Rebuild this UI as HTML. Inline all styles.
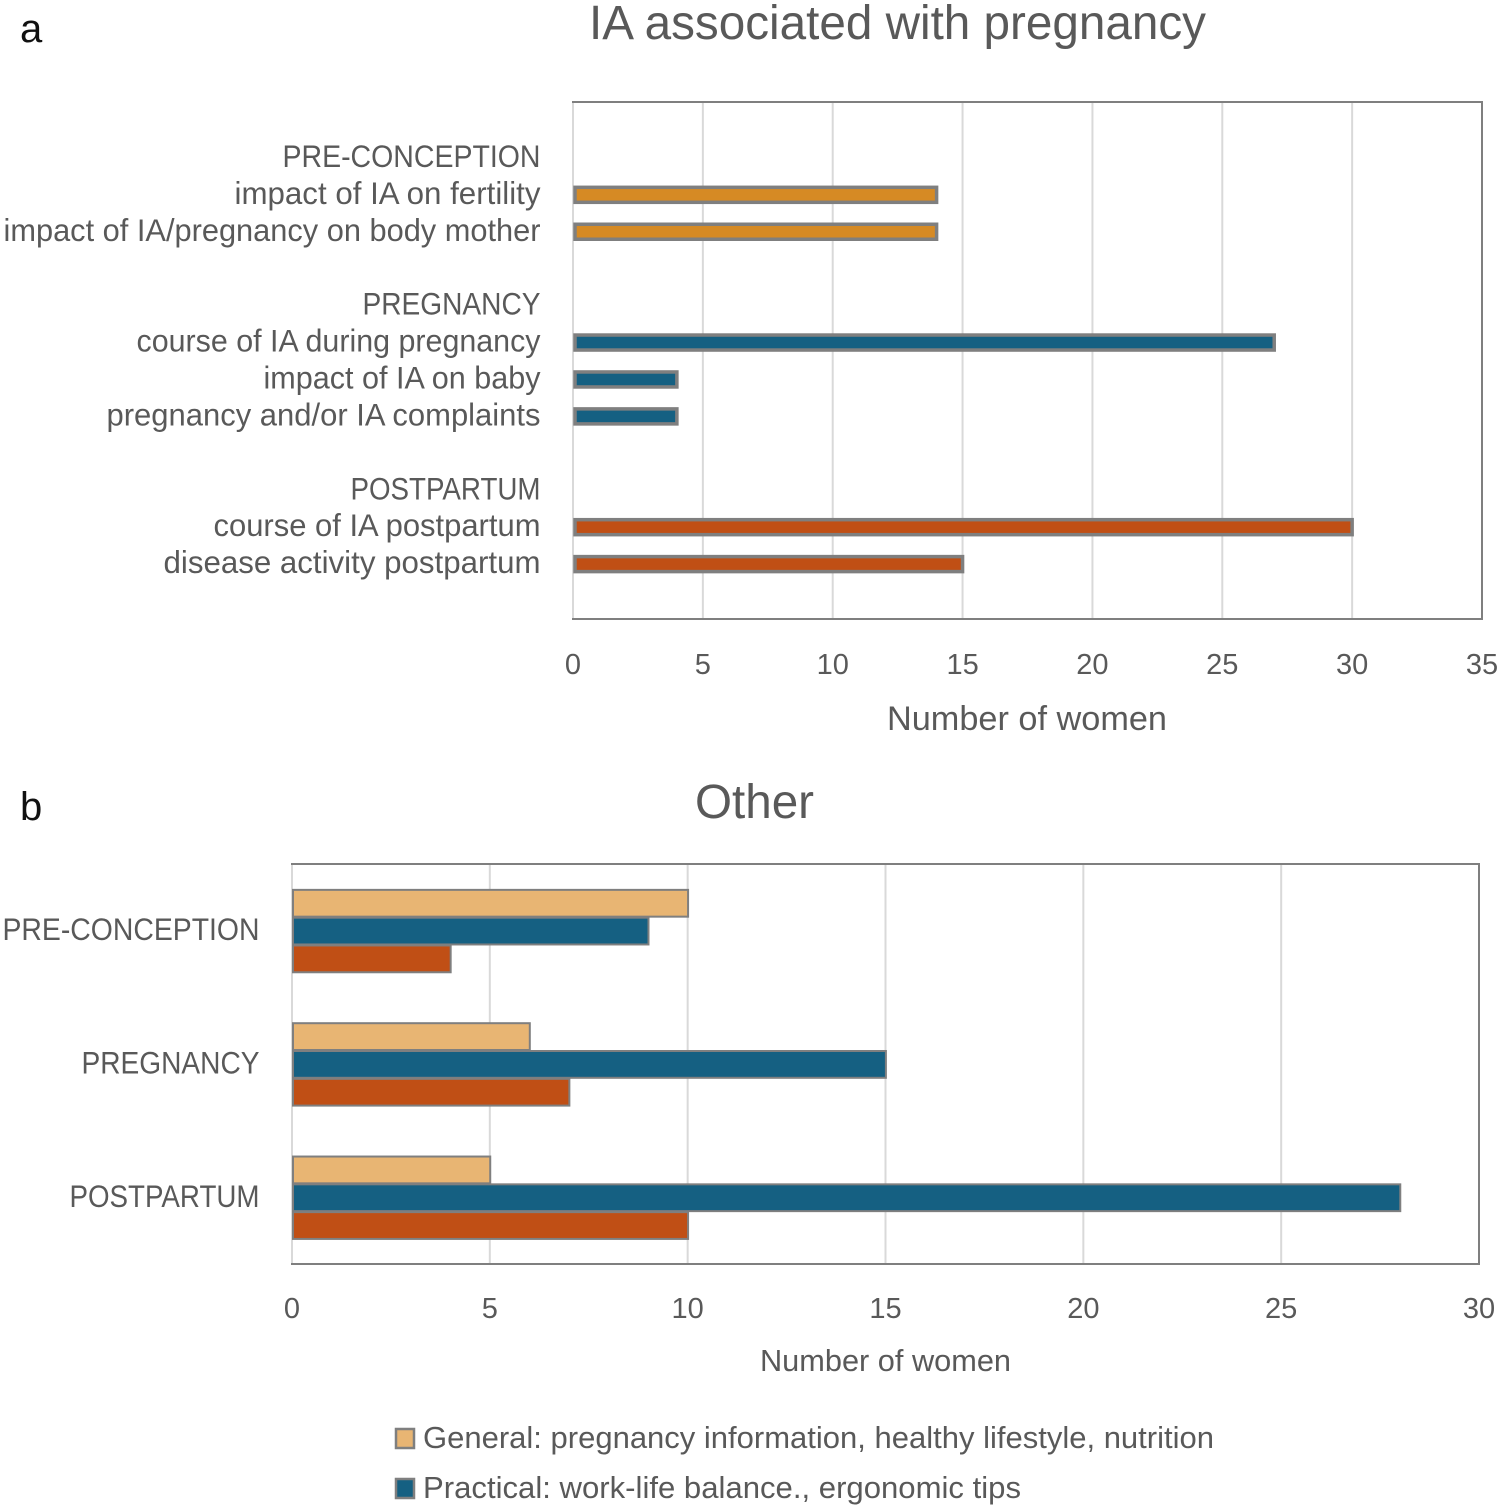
<!DOCTYPE html>
<html lang="en">
<head>
<meta charset="utf-8">
<title>IA associated with pregnancy</title>
<style>
html,body{margin:0;padding:0;background:#fff;}
svg{display:block;}
text{font-family:"Liberation Sans",sans-serif;fill:#595959;}
</style>
</head>
<body>
<svg id="figure" xmlns="http://www.w3.org/2000/svg" width="1504" height="1512" viewBox="0 0 1504 1512">
  <rect x="0" y="0" width="1504" height="1512" fill="#ffffff"/>
  <text x="20" y="42" font-size="40" style="fill:#111">a</text>
  <text x="20" y="820" font-size="40" style="fill:#111">b</text>
  <text x="589" y="39" font-size="48" textLength="617" lengthAdjust="spacingAndGlyphs">IA associated with pregnancy</text>
  <text x="695" y="818" font-size="48" textLength="119" lengthAdjust="spacingAndGlyphs">Other</text>
  <text x="887" y="730" font-size="34" textLength="280" lengthAdjust="spacingAndGlyphs">Number of women</text>
  <text x="760" y="1371" font-size="31" textLength="251" lengthAdjust="spacingAndGlyphs">Number of women</text>
  <g id="chart-a"></g>
  <g id="chart-b"></g>
  <g id="legend">
    <g>
      <rect x="396" y="1429" width="18" height="19" fill="#E8B573" stroke="#7f7f7f" stroke-width="2.5"/>
      <text x="423" y="1448" font-size="31" textLength="791" lengthAdjust="spacingAndGlyphs">General: pregnancy information, healthy lifestyle, nutrition</text>
    </g>
    <g>
      <rect x="396" y="1479" width="18" height="19" fill="#156082" stroke="#7f7f7f" stroke-width="2.5"/>
      <text x="423" y="1498" font-size="31" textLength="598" lengthAdjust="spacingAndGlyphs">Practical: work-life balance., ergonomic tips</text>
    </g>
  </g>
</svg>
<script>
// Chart A data
const chartACategories = ["PRE-CONCEPTION", "impact of IA on fertility", "impact of IA/pregnancy on body mother", "PREGNANCY", "course of IA during pregnancy", "impact of IA on baby", "pregnancy and/or IA complaints", "POSTPARTUM", "course of IA postpartum", "disease activity postpartum"];
const chartAValues = [null, 14, 14, null, 27, 4, 4, null, 30, 15];
const chartAPhases = ["pre", "pre", "pre", "preg", "preg", "preg", "preg", "post", "post", "post"];
const chartASlots = [1, 2, 3, 5, 6, 7, 8, 10, 11, 12];
const chartATicks = [0, 5, 10, 15, 20, 25, 30, 35];

// Chart B data
const chartBCategories = ["PRE-CONCEPTION", "PREGNANCY", "POSTPARTUM"];
const chartBGeneral = [10, 6, 5];
const chartBPractical = [9, 15, 28];
const chartBThird = [4, 7, 10];
const chartBTicks = [0, 5, 10, 15, 20, 25, 30];

const NS = "http://www.w3.org/2000/svg";
function mk(parent, tag, attrs, txt) {
  const e = document.createElementNS(NS, tag);
  for (const k in attrs) e.setAttribute(k, attrs[k]);
  if (txt !== undefined) e.textContent = txt;
  parent.appendChild(e);
  return e;
}
const phaseColor = { pre: "#D68A24", preg: "#156082", post: "#C04F15" };
const textWidthsA = [258, 306, 537, 178, 404, 277, 434, 190, 327, 377];
const textWidthsB = [257, 178, 190];

function drawFrame(g, left, right, top, bottom, ticks, maxV, tickY, tickSize) {
  const x = v => left + (v / maxV) * (right - left);
  const frame = mk(g, "rect", { x: left, y: top, width: right - left, height: bottom - top, fill: "none", stroke: "#7f7f7f", "stroke-width": 2 });
  
  
  ticks.forEach(t => {
    if (t < maxV) {
      const line = mk(g, "line", { x1: x(t), x2: x(t), y1: top + 1, y2: bottom - 1, stroke: "#d9d9d9", "stroke-width": 2 });
      
      
    }
    const label = mk(g, "text", { x: x(t), y: tickY, "font-size": tickSize, "text-anchor": "middle" }, String(t));
    
    
  });
  return x;
}

// Chart A
(function () {
  const g = document.getElementById("chart-a");
  const left = 573, right = 1482, top = 102, bottom = 619, rows = 14;
  const rowH = (bottom - top) / rows;
  const y = i => top + rowH * (i + 0.5);
  const x = drawFrame(g, left, right, top, bottom, chartATicks, 35, 674, 29);
  chartACategories.forEach((c, i) => {
    const cy = y(chartASlots[i]);
    const label = mk(g, "text", { x: 540.5, y: cy + 9.5, "font-size": 31.5, "text-anchor": "end", textLength: textWidthsA[i], lengthAdjust: "spacingAndGlyphs" }, c);
    
    
    const v = chartAValues[i];
    if (v !== null) {
      const bar = mk(g, "rect", { x: x(0) + 2, y: cy - 7, width: x(v) - x(0) - 2, height: 15, fill: phaseColor[chartAPhases[i]], stroke: "#7f7f7f", "stroke-width": 3.5 });
      
      
    }
  });
})();

// Chart B
(function () {
  const g = document.getElementById("chart-b");
  const left = 292, right = 1479, top = 864, bottom = 1264;
  const groupH = (bottom - top) / chartBCategories.length;
  const x = drawFrame(g, left, right, top, bottom, chartBTicks, 30, 1318, 29);
  const barH = 27.8;
  const series = [
    { vals: chartBGeneral, fill: "#E8B573" },
    { vals: chartBPractical, fill: "#156082" },
    { vals: chartBThird, fill: "#C04F15" }
  ];
  chartBCategories.forEach((c, i) => {
    const cy = top + groupH * (i + 0.5);
    const label = mk(g, "text", { x: 259.5, y: cy + 9.5, "font-size": 31.5, "text-anchor": "end", textLength: textWidthsB[i], lengthAdjust: "spacingAndGlyphs" }, c);
    
    
    series.forEach((s, j) => {
      const by = cy - barH * 1.5 + j * barH + 0.4;
      const bar = mk(g, "rect", { x: x(0) + 1, y: by + 0.5, width: x(s.vals[i]) - x(0) - 0.6, height: barH - 1, fill: s.fill, stroke: "#7f7f7f", "stroke-width": 2 });
      
      
    });
  });
})();
</script>
</body>
</html>
